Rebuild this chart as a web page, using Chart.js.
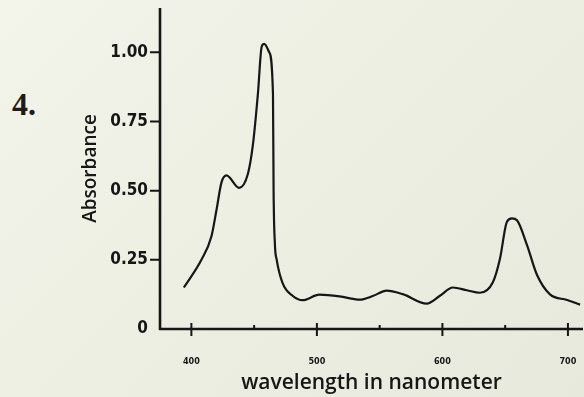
<!DOCTYPE html>
<html>
<head>
<meta charset="utf-8">
<script src="https://cdn.jsdelivr.net/npm/chart.js@4.4.1/dist/chart.umd.min.js"></script>
<style>
  html, body { margin: 0; padding: 0; }
  body {
    width: 584px; height: 397px; overflow: hidden; position: relative;
    background: linear-gradient(135deg, #f3f4ea 0%, #eceee1 55%, #e6e9dc 100%);
  }
  #wrap { position: absolute; left: 0; top: 0; width: 584px; height: 397px; }
  #num {
    position: absolute; left: 12px; top: 86px;
    font: bold 32px "Liberation Serif", "DejaVu Serif", serif; color: #1c1c1c;
  }
</style>
</head>
<body>
<div id="num">4.</div>
<div id="wrap"><canvas id="my-chart" width="584" height="397"></canvas></div>
<script>
// wavelength (nm) and absorbance
const wavelengths = [394, 408, 416, 420, 424, 428, 438, 445, 449, 453, 456, 458, 462, 465, 465.5, 466.5, 468, 472.6,
  480.6, 488.6, 502, 518, 534, 544.5, 555.6, 568.4, 587.5, 598, 608.3, 619.5, 629.8, 640.2, 645.8, 651.4, 655.4,
  659.4, 667.4, 675.3, 685.7, 699.3, 709.7]
const absorbance = [0.15, 0.25, 0.335, 0.43, 0.53, 0.555, 0.51, 0.56, 0.665, 0.85, 1.02, 1.03, 1.0, 0.85, 0.5, 0.31, 0.25, 0.167,
  0.12, 0.104, 0.124, 0.118, 0.106, 0.119, 0.139, 0.126, 0.092, 0.12, 0.15, 0.14, 0.131, 0.169, 0.253, 0.388, 0.40,
  0.393, 0.303, 0.196, 0.125, 0.105, 0.088]

const xTicks = [400, 450, 500, 550, 600, 650, 700]
const xLabelled = [400, 500, 600, 700]
const yTicks = [0, 0.25, 0.5, 0.75, 1.0]
const yLabels = ["0", "0.25", "0.50", "0.75", "1.00"]

const ink = "#161616"
const narrow = '"Liberation Sans Narrow", "DejaVu Sans Condensed", "Liberation Sans", sans-serif'

// axis lines and tick marks, placed through the chart's own scales
const axisPlugin = {
  id: "axisMarks",
  afterDraw(chart) {
    const { ctx, scales: { x, y } } = chart
    ctx.save()
    ctx.strokeStyle = ink
    ctx.lineCap = "butt"
    ctx.lineWidth = 2.6
    ctx.beginPath()
    ctx.moveTo(x.left, y.top)
    ctx.lineTo(x.left, y.bottom + 1)
    ctx.moveTo(x.left - 1, y.bottom)
    ctx.lineTo(x.right, y.bottom)
    ctx.stroke()

    ctx.lineWidth = 2
    ctx.beginPath()
    yTicks.forEach((v) => {
      if (v === 0) return
      const py = y.getPixelForValue(v)
      ctx.moveTo(x.left - 10, py)
      ctx.lineTo(x.left, py)
    })
    xTicks.forEach((v) => {
      const px = x.getPixelForValue(v)
      if (xLabelled.includes(v)) {
        ctx.moveTo(px, y.bottom - 6)
        ctx.lineTo(px, y.bottom + 7)
      } else {
        ctx.moveTo(px, y.bottom - 4)
        ctx.lineTo(px, y.bottom)
      }
    })
    ctx.stroke()
    ctx.restore()
  }
}

window.onload = function () {
  const ctx = document.getElementById("my-chart").getContext("2d")
  const chart = new Chart(ctx, {
    type: "line",
    data: {
      datasets: [
        {
          label: "Absorbance",
          data: wavelengths.map((w, i) => ({ x: w, y: absorbance[i] })),
          borderColor: ink,
          borderWidth: 2.2,
          pointRadius: 0,
          fill: false,
          cubicInterpolationMode: "monotone",
        },
      ],
    },
    options: {
      responsive: false,
      animation: false,
      events: [],
      layout: { padding: { left: 79, top: 8, right: 1, bottom: 0 } },
      plugins: { legend: { display: false }, tooltip: { enabled: false } },
      scales: {
        x: {
          type: "linear",
          min: 375,
          max: 712,
          afterFit: (scale) => {
            scale.height = 68
            scale.paddingLeft = 0
            scale.paddingRight = 0
          },
          afterBuildTicks: (scale) => { scale.ticks = xTicks.map((v) => ({ value: v })) },
          grid: { display: false, drawTicks: false },
          border: { display: false },
          ticks: {
            padding: 27,
            maxRotation: 0,
            autoSkip: false,
            color: ink,
            font: { family: narrow, size: 9, weight: "bold" },
            callback: (v) => (xLabelled.includes(v) ? String(v) : ""),
          },
          title: {
            display: true,
            text: "wavelength in nanometer",
            color: ink,
            padding: { top: 0, bottom: 1 },
            font: { family: '"Open Sans", "Noto Sans", sans-serif', size: 21, weight: "600" },
          },
        },
        y: {
          min: 0,
          max: 1.16,
          afterFit: (scale) => {
            scale.width = 81
            scale.paddingTop = 0
            scale.paddingBottom = 0
          },
          afterBuildTicks: (scale) => { scale.ticks = yTicks.map((v) => ({ value: v })) },
          grid: { display: false, drawTicks: false },
          border: { display: false },
          ticks: {
            padding: 12,
            color: ink,
            font: { family: narrow, size: 17, weight: "bold" },
            callback: (v) => yLabels[yTicks.indexOf(v)],
          },
          title: {
            display: true,
            text: "Absorbance",
            color: ink,
            padding: { top: 0, bottom: 0 },
            font: { family: '"Open Sans", "Noto Sans", sans-serif', size: 19, weight: "600" },
          },
        },
      },
    },
    plugins: [axisPlugin],
  })
}
</script>
</body>
</html>
